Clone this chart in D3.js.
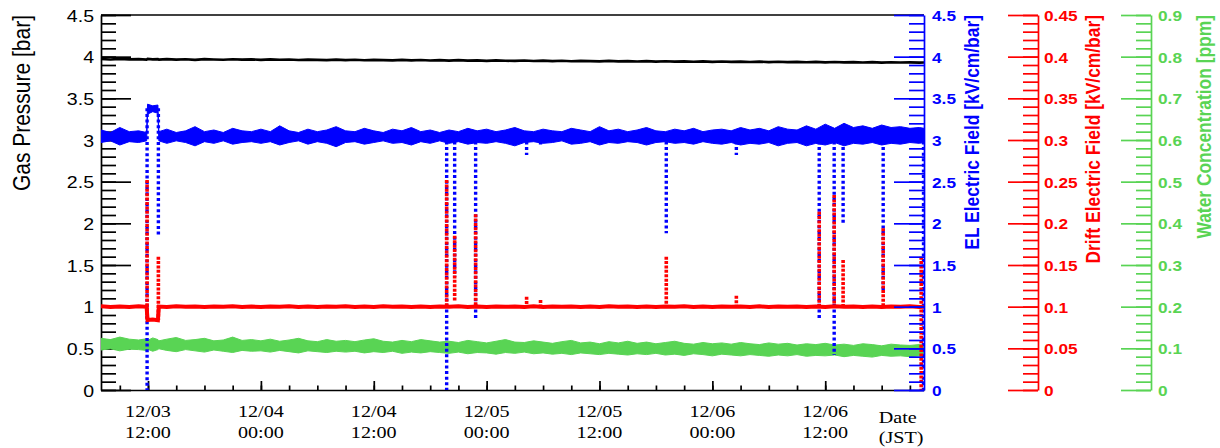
<!DOCTYPE html>
<html><head><meta charset="utf-8">
<script src="https://cdn.jsdelivr.net/npm/d3@7"></script>
<style>body{margin:0;background:#fff}svg{display:block}</style>
</head><body>
<svg id="c" width="1220" height="448"></svg>
<script>
// ---- data (hours since 12/03 00:00 JST) ----
const hours = [7,8,9,10,11,11.85,11.95,12.5,13.05,13.15].concat(d3.range(14, 96));
const pressure = [
3.972,3.966,3.974,3.968,3.971,3.965,3.973,3.967,3.970,3.964,
3.971,3.965,3.969,3.962,3.970,3.966,3.963,3.969,3.964,3.967,
3.961,3.968,3.963,3.966,3.960,3.965,3.962,3.958,3.964,3.959,
3.963,3.957,3.962,3.958,3.955,3.961,3.956,3.960,3.954,3.958,
3.953,3.959,3.952,3.956,3.950,3.955,3.951,3.949,3.954,3.948,
3.952,3.947,3.951,3.945,3.950,3.946,3.943,3.949,3.944,3.947,
3.942,3.946,3.941,3.945,3.940,3.944,3.939,3.943,3.938,3.942,
3.937,3.941,3.936,3.940,3.935,3.939,3.934,3.938,3.933,3.937,
3.932,3.936,3.931,3.935,3.930,3.934,3.929,3.933,3.930,3.932,
3.928,3.931];
const elHigh = [
3.12,3.09,3.15,3.10,3.11,3.09,3.43,3.41,3.42,3.10,
3.13,3.09,3.11,3.16,3.10,3.12,3.09,3.14,3.11,3.10,
3.13,3.10,3.17,3.11,3.09,3.13,3.10,3.12,3.16,3.11,
3.10,3.14,3.11,3.09,3.13,3.11,3.15,3.10,3.12,3.09,
3.12,3.10,3.14,3.11,3.13,3.10,3.12,3.15,3.11,3.10,
3.13,3.11,3.10,3.14,3.12,3.10,3.16,3.11,3.13,3.10,
3.12,3.15,3.11,3.10,3.13,3.11,3.14,3.10,3.12,3.13,
3.11,3.15,3.12,3.14,3.11,3.16,3.13,3.12,3.17,3.13,
3.19,3.14,3.20,3.15,3.17,3.14,3.18,3.15,3.16,3.14,
3.15,3.13];
const elLow = [
2.97,2.99,2.94,2.98,2.97,2.99,3.31,3.34,3.32,2.99,
2.96,2.99,2.97,2.93,2.98,2.96,2.99,2.95,2.97,2.98,
2.96,2.98,2.94,2.97,2.99,2.95,2.98,2.96,2.92,2.97,
2.98,2.95,2.97,2.99,2.96,2.97,2.94,2.98,2.96,2.99,
2.96,2.98,2.95,2.97,2.96,2.98,2.96,2.93,2.97,2.98,
2.96,2.97,2.99,2.95,2.96,2.98,2.94,2.97,2.96,2.98,
2.97,2.94,2.97,2.98,2.96,2.97,2.95,2.98,2.96,2.95,
2.97,2.94,2.96,2.95,2.97,2.93,2.96,2.97,2.93,2.96,
2.94,2.97,2.93,2.96,2.95,2.97,2.94,2.96,2.95,2.97,
2.96,2.98];
const drift = [
0.1005,0.0996,0.1003,0.0997,0.1004,0.0998,0.0840,0.0846,0.0838,0.1002,
0.0997,0.1004,0.0998,0.1003,0.0995,0.1002,0.0998,0.1005,0.0997,0.1001,
0.0996,0.1003,0.0999,0.1004,0.0997,0.1002,0.0996,0.1003,0.0998,0.1005,
0.0997,0.1002,0.0996,0.1004,0.0998,0.1001,0.0997,0.1003,0.0996,0.1002,
0.0998,0.1004,0.0997,0.1001,0.0996,0.1003,0.0998,0.1002,0.0997,0.1004,
0.0996,0.1002,0.0998,0.1003,0.0997,0.1001,0.0996,0.1004,0.0998,0.1002,
0.0997,0.1003,0.0996,0.1002,0.0998,0.1004,0.0997,0.1001,0.0996,0.1003,
0.0998,0.1002,0.0997,0.1004,0.0996,0.1001,0.0998,0.1003,0.0997,0.1002,
0.0996,0.1004,0.0998,0.1002,0.0997,0.1003,0.0996,0.1001,0.0998,0.1004,
0.0997,0.1002];
const waterHigh = [
0.124,0.121,0.127,0.122,0.120,0.123,0.119,0.125,0.121,0.118,
0.122,0.126,0.119,0.121,0.124,0.118,0.120,0.127,0.119,0.121,
0.118,0.122,0.117,0.120,0.124,0.118,0.116,0.121,0.117,0.119,
0.116,0.120,0.123,0.117,0.115,0.119,0.116,0.121,0.118,0.115,
0.117,0.114,0.119,0.116,0.113,0.117,0.121,0.115,0.114,0.118,
0.115,0.112,0.116,0.119,0.113,0.115,0.111,0.116,0.113,0.117,
0.112,0.115,0.111,0.114,0.117,0.112,0.110,0.114,0.111,0.113,
0.110,0.114,0.111,0.109,0.113,0.110,0.112,0.108,0.111,0.109,
0.112,0.108,0.110,0.107,0.111,0.109,0.106,0.110,0.108,0.107,
0.109,0.107];
const waterLow = [
0.096,0.099,0.094,0.098,0.097,0.095,0.098,0.093,0.097,0.099,
0.095,0.092,0.097,0.094,0.091,0.096,0.093,0.090,0.095,0.093,
0.094,0.091,0.095,0.092,0.089,0.094,0.092,0.090,0.093,0.091,
0.093,0.089,0.092,0.090,0.093,0.088,0.091,0.089,0.092,0.090,
0.088,0.091,0.087,0.090,0.089,0.086,0.090,0.088,0.091,0.087,
0.089,0.086,0.088,0.085,0.089,0.087,0.085,0.088,0.086,0.084,
0.087,0.085,0.088,0.084,0.086,0.083,0.087,0.085,0.082,0.086,
0.084,0.082,0.085,0.083,0.081,0.084,0.082,0.085,0.081,0.083,
0.082,0.084,0.080,0.083,0.081,0.079,0.083,0.081,0.082,0.080,
0.082,0.081];
// HV ramps (vertical runs of points)
const elRampHours = [11.9,13.1,43.75,44.6,46.83,52.25,53.73,67.1,74.55,83.36,84.95,85.9,90.16,94.45];
const elRampLow   = [0,1.84,0,1.36,0.84,2.82,2.92,1.88,2.82,0.84,0.42,1.98,1.18,0];
const elRampHigh  = [3.38,3.38,3.05,3.05,3.05,3.05,3.05,3.05,3.05,3.05,3.05,3.05,3.05,3.05];
const driftRampHours = [11.9,13.1,43.75,44.6,46.83,52.25,53.73,67.1,74.55,83.36,84.95,85.9,90.16,94.2];
const driftRampLow   = [0.084,0.084,0.100,0.106,0.100,0.100,0.100,0.100,0.100,0.100,0.100,0.100,0.100,0];
const driftRampHigh  = [0.252,0.160,0.252,0.185,0.211,0.112,0.108,0.160,0.113,0.214,0.234,0.156,0.194,0.160];
// ticks
const xTickHours = [12,24,36,48,60,72,84];
const xTickDates = ["12/03","12/04","12/04","12/05","12/05","12/06","12/06"];
const xTickTimes = ["12:00","00:00","12:00","00:00","12:00","00:00","12:00"];
const pressureTicks = [0,0.5,1,1.5,2,2.5,3,3.5,4,4.5];
const pressureLabels = ["0","0.5","1","1.5","2","2.5","3","3.5","4","4.5"];
const driftTicks = [0,0.05,0.1,0.15,0.2,0.25,0.3,0.35,0.4,0.45];
const driftLabels = ["0","0.05","0.1","0.15","0.2","0.25","0.3","0.35","0.4","0.45"];
const waterTicks = [0,0.1,0.2,0.3,0.4,0.5,0.6,0.7,0.8,0.9];
const waterLabels = ["0","0.1","0.2","0.3","0.4","0.5","0.6","0.7","0.8","0.9"];

// ---- drawing ----
const BLUE = "#0000ff", RED = "#ff0000", GREEN = "#59d454";
const SX = 1.15;
const SANS = "'Liberation Sans', Arial, Helvetica, sans-serif";
const SERIF = "'Liberation Serif', 'Times New Roman', serif";
const L = 101, R = 924, T = 15, B = 390;
const svg = d3.select("#c");
const x = d3.scaleLinear().domain([7, 94.5]).range([L, R]);
const yP = d3.scaleLinear().domain([0, 4.5]).range([B, T]);
const yEL = d3.scaleLinear().domain([0, 4.5]).range([B, T]);
const yDr = d3.scaleLinear().domain([0, 0.45]).range([B, T]);
const yW = d3.scaleLinear().domain([0, 0.9]).range([B, T]);

svg.append("defs").append("clipPath").attr("id", "clip")
  .append("rect").attr("x", L).attr("y", T - 2).attr("width", R - L).attr("height", B - T + 2);

// frame top line
svg.append("line").attr("x1", L).attr("x2", R).attr("y1", T).attr("y2", T)
  .attr("stroke", "#000").attr("stroke-width", 1.7);

function styleAxis(g, color) {
  g.attr("color", color);
  g.selectAll("line,path").attr("stroke-width", 1.7);
}
function minorRange(lo, hi, step) {
  const n = Math.round((hi - lo) / step);
  return d3.range(n + 1).map(i => lo + i * step);
}

// left axis
const gL = svg.append("g").attr("transform", `translate(${L},0)`);
gL.append("g").call(d3.axisLeft(yP).tickValues(minorRange(0, 4.5, 0.1)).tickSize(-15).tickSizeOuter(0).tickFormat(() => ""))
  .call(g => { styleAxis(g, "#000"); g.select(".domain").remove(); });
gL.append("g").call(d3.axisLeft(yP).tickValues(pressureTicks).tickSize(-30).tickSizeOuter(0).tickPadding(0)
    .tickFormat((d, i) => pressureLabels[i]))
  .call(g => {
    styleAxis(g, "#000");
    g.selectAll("text").attr("x", 0).attr("dy", "0.36em")
      .attr("transform", `translate(-7,0) scale(${SX},1)`)
      .attr("font-family", SANS).attr("font-size", 17).attr("fill", "#000");
  });

// bottom axis
const gB = svg.append("g").attr("transform", `translate(0,${B})`);
gB.append("g").call(d3.axisBottom(x).tickValues(minorRange(9, 93, 3)).tickSize(-4.5).tickSizeOuter(0).tickFormat(() => ""))
  .call(g => { styleAxis(g, "#000"); g.select(".domain").remove(); });
gB.append("g").call(d3.axisBottom(x).tickValues(xTickHours).tickSize(-9).tickSizeOuter(0).tickFormat(() => ""))
  .call(g => styleAxis(g, "#000"));
xTickHours.forEach((h, i) => {
  const t = svg.append("text").attr("transform", `translate(${x(h)},0) scale(${SX},1)`)
    .attr("text-anchor", "middle").attr("font-family", SERIF).attr("font-size", 17.5).attr("fill", "#000");
  t.append("tspan").attr("x", 0).attr("y", 417).text(xTickDates[i]);
  t.append("tspan").attr("x", 0).attr("y", 438).text(xTickTimes[i]);
});
const dt = svg.append("text").attr("transform", `translate(900,0) scale(${SX},1)`)
  .attr("text-anchor", "middle").attr("font-family", SERIF).attr("font-size", 17.5).attr("fill", "#000");
dt.append("tspan").attr("x", -2).attr("y", 423).text("Date");
dt.append("tspan").attr("x", 1).attr("y", 443).text("(JST)");

// left title
svg.append("text").attr("transform", `translate(30,${T}) scale(${SX},1) rotate(-90)`)
  .attr("text-anchor", "end").attr("font-family", SANS).attr("font-size", 21).attr("fill", "#000")
  .text("Gas Pressure [bar]");

// ---- data ----
const plot = svg.append("g").attr("clip-path", "url(#clip)");
const idx = d3.range(hours.length);

plot.append("path").datum(idx)
  .attr("d", d3.line().x(i => x(hours[i])).y(i => yP(pressure[i])))
  .attr("fill", "none").attr("stroke", "#000").attr("stroke-width", 2.6);

plot.append("path").datum(idx)
  .attr("d", d3.area().x(i => x(hours[i])).y0(i => yW(waterLow[i])).y1(i => yW(waterHigh[i])))
  .attr("fill", GREEN).attr("stroke", GREEN).attr("stroke-width", 1);

plot.append("path").datum(idx)
  .attr("d", d3.area().x(i => x(hours[i])).y0(i => yEL(elLow[i])).y1(i => yEL(elHigh[i])))
  .attr("fill", BLUE).attr("stroke", BLUE).attr("stroke-width", 1);

plot.append("g").selectAll("line").data(elRampHours).join("line")
  .attr("x1", d => x(d)).attr("x2", d => x(d))
  .attr("y1", (d, i) => yEL(elRampHigh[i])).attr("y2", (d, i) => yEL(elRampLow[i]))
  .attr("stroke", BLUE).attr("stroke-width", 3.4).attr("stroke-dasharray", "3 2.6");

plot.append("path").datum(idx)
  .attr("d", d3.line().x(i => x(hours[i])).y(i => yDr(drift[i])))
  .attr("fill", "none").attr("stroke", RED).attr("stroke-width", 4);

plot.append("g").selectAll("line").data(driftRampHours).join("line")
  .attr("x1", d => x(d)).attr("x2", d => x(d))
  .attr("y1", (d, i) => yDr(driftRampHigh[i])).attr("y2", (d, i) => yDr(driftRampLow[i]))
  .attr("stroke", RED).attr("stroke-width", 3.6).attr("stroke-dasharray", "3 1.4");

// ---- right axes ----
function rightAxis(scale, xPos, majors, labels, minorStep, color, labelDx, title, titleX) {
  const g = svg.append("g").attr("transform", `translate(${xPos},0)`);
  const dom = scale.domain();
  g.append("g").call(d3.axisRight(scale).tickValues(minorRange(dom[0], dom[1], minorStep)).tickSize(-15).tickSizeOuter(0).tickFormat(() => ""))
    .call(a => { styleAxis(a, color); a.select(".domain").remove(); });
  g.append("g").call(d3.axisRight(scale).tickValues(majors).tickSize(-30).tickSizeOuter(0).tickPadding(0)
      .tickFormat((d, i) => labels[i]))
    .call(a => {
      styleAxis(a, color);
      a.selectAll("text").attr("x", 0).attr("dy", "0.36em")
        .attr("transform", `translate(${labelDx},0) scale(${SX},1)`)
        .attr("font-family", SANS).attr("font-weight", "bold").attr("font-size", 15).attr("fill", color);
    });
  svg.append("text").attr("transform", `translate(${titleX},${T}) scale(${SX},1) rotate(-90)`)
    .attr("text-anchor", "end").attr("font-family", SANS).attr("font-weight", "bold")
    .attr("font-size", 17.4).attr("fill", color).text(title);
}
rightAxis(yEL, R, pressureTicks, pressureLabels, 0.1, BLUE, 8, "EL Electric Field [kV/cm/bar]", 979);
rightAxis(yDr, 1038, driftTicks, driftLabels, 0.01, RED, 6, "Drift Electric Field [kV/cm/bar]", 1100);
rightAxis(yW, 1151, waterTicks, waterLabels, 0.02, GREEN, 7, "Water Concentration [ppm]", 1211);
</script>
</body></html>
